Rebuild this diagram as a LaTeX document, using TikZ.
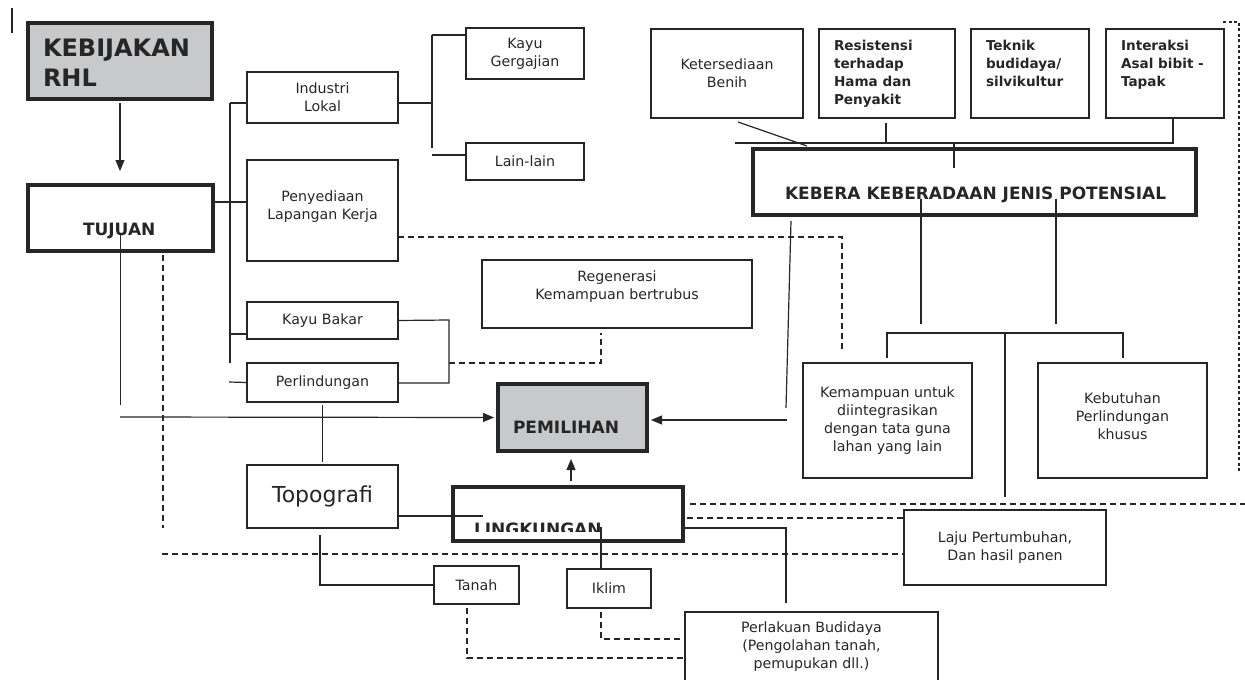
\documentclass[tikz,border=0pt]{standalone}
\usepackage{fontspec}
\setmainfont{DejaVu Sans}
\usepackage{tikz}
\usetikzlibrary{arrows.meta,positioning}

\definecolor{inkgray}{HTML}{262626}
\definecolor{boxgray}{HTML}{C8C9CB}

\begin{document}
\begin{tikzpicture}[y=-1pt,x=1pt,
	every node/.style={inner sep=0pt, outer sep=0pt, text=inkgray},
	box/.style={draw=inkgray, line width=1.3pt, anchor=north west, align=center, font=\fontsize{14.2}{18}\selectfont},
	heavy/.style={draw=inkgray, line width=3.6pt, anchor=north west},
	shaded/.style={fill=boxgray},
	link/.style={draw=inkgray, line width=1.2pt},
	dlink/.style={link, dash pattern=on 6pt off 4pt},
	flink/.style={link, line width=1.1pt, dash pattern=on 3pt off 2.5pt},
	arr/.style={link, -{Triangle[length=11pt,width=9pt]}},
	btxt/.style={font=\bfseries\fontsize{13.6}{18}\selectfont, align=left, anchor=north west},
	ntxt/.style={font=\fontsize{14.2}{18}\selectfont, align=center, anchor=north},
	htxt/.style={font=\bfseries\fontsize{17}{20}\selectfont, anchor=base west}]

	\useasboundingbox (0,0) rectangle (1245,680);

	\node[heavy, shaded, minimum width=184pt, minimum height=76pt] (kebij) at (28,23) {};
	\node[heavy, minimum width=185pt, minimum height=66pt] (tuj) at (28,185) {};
	\node[heavy, shaded, minimum width=149pt, minimum height=67pt] (pemil) at (498,384) {};
	\node[heavy, minimum width=230pt, minimum height=54pt] (lingk) at (453,487) {};
	\node[heavy, minimum width=443pt, minimum height=66pt] (kebera) at (753,149) {};

	\node[box, minimum width=151pt, minimum height=51pt] (ind) at (247,72) {Industri\\Lokal};
	\node[box, minimum width=151pt, minimum height=101pt] (peny) at (247,160) {};
	\node[box, minimum width=151pt, minimum height=37pt] (kbak) at (247,302) {Kayu Bakar};
	\node[box, minimum width=151pt, minimum height=39pt] (perl) at (247,363) {Perlindungan};
	\node[box, minimum width=151pt, minimum height=63pt, font=\fontsize{22}{26}\selectfont] (topo) at (247,465) {Topografi};
	\node[box, minimum width=118pt, minimum height=51pt] (kgerg) at (466,28) {Kayu\\Gergajian};
	\node[box, minimum width=118pt, minimum height=37pt] (lain) at (466,143) {Lain-lain};
	\node[box, minimum width=270pt, minimum height=68pt] (regen) at (482,260) {};
	\node[box, minimum width=152pt, minimum height=89pt] (ket) at (651,29) {Ketersediaan\\Benih};
	\node[box, minimum width=136pt, minimum height=89pt] (resis) at (819,29) {};
	\node[box, minimum width=118pt, minimum height=89pt] (tekn) at (971,29) {};
	\node[box, minimum width=118pt, minimum height=89pt] (inter) at (1106,29) {};
	\node[box, minimum width=169pt, minimum height=115pt] (kemam) at (803,363) {Kemampuan untuk\\diintegrasikan\\dengan tata guna\\lahan yang lain};
	\node[box, minimum width=169pt, minimum height=115pt] (kebut) at (1038,363) {};
	\node[box, minimum width=202pt, minimum height=75pt] (laju) at (904,510) {Laju Pertumbuhan,\\Dan hasil panen};
	\node[box, minimum width=85pt, minimum height=38pt] (tanah) at (434,566) {Tanah};
	\node[box, minimum width=84pt, minimum height=39pt] (iklim) at (567,569) {Iklim};
	\node[box, minimum width=253pt, minimum height=100pt] (perlak) at (685,612) {};

	\node[font=\bfseries\fontsize{24}{30}\selectfont, align=left, anchor=north west] (kebij-t) at (43,39) {KEBIJAKAN\\RHL};
	\node[htxt] (tuj-t) at (83,235) {TUJUAN};
	\node[htxt] (pemil-t) at (513,433) {PEMILIHAN};
	\node[htxt] (kebera-t) at (785,199) {KEBERA KEBERADAAN JENIS POTENSIAL};
	\begin{scope}
		\clip (453,487) rectangle (683,531.5);
		\node[htxt] (lingk-t) at (474,535) {LINGKUNGAN};
	\end{scope}
	\node[ntxt] (peny-t) at ([yshift=-30.5pt]peny.north) {Penyediaan\\Lapangan Kerja};
	\node[ntxt] (regen-t) at ([yshift=-11pt]regen.north) {Regenerasi\\Kemampuan bertrubus};
	\node[ntxt] (kebut-t) at ([yshift=-30pt]kebut.north) {Kebutuhan\\Perlindungan\\khusus};
	\node[ntxt] (perlak-t) at ([yshift=-10pt]perlak.north) {Perlakuan Budidaya\\(Pengolahan tanah,\\pemupukan dll.)};
	\node[btxt] (resis-t) at ([shift={(15,11)}]resis.north west) {Resistensi\\terhadap\\Hama dan\\Penyakit};
	\node[btxt] (tekn-t) at ([shift={(15,11)}]tekn.north west) {Teknik\\budidaya/\\silvikultur};
	\node[btxt] (inter-t) at ([shift={(15,11)}]inter.north west) {Interaksi\\Asal bibit -\\Tapak};

	\draw[link, line width=1.5pt] (12,8) -- (12,33);
	\draw[arr] ([yshift=-4pt]kebij.south) -- (120,171);
	\draw[link] ([yshift=-15pt]tuj.center) -- ++(0,172);
	\draw[arr] (120,417) -- ([xshift=-4pt]pemil.west);
	\draw[dlink] (163,255) -- (163,528);
	\draw[dlink] (162,554) -- (laju.west |- 0,554);

	\draw[link] (230,103) -- (230,363);
	\draw[link] (230,103) -- (ind.west |- 0,103);
	\draw[link] (tuj.east |- 0,202) -- (peny.west |- 0,202);
	\draw[link] (230,334) -- (kbak.west |- 0,334);
	\draw[link] (229,382) -- (perl.west);
	\draw[link] (ind.east |- 0,103) -- (432,103);
	\draw[link] (432,35) -- (432,148);
	\draw[link] (432,35) -- (kgerg.west |- 0,35);
	\draw[link] (432,155) -- (lain.west |- 0,155);
	\draw[dlink] (peny.east |- 0,237) -- (842,237) -- (842,352);
	\draw[link] (kbak.east) -- (449,320) -- (449,383) -- (perl.east |- 0,383);
	\draw[dlink] (449,363) -- (601,363) -- (601,333);

	\draw[link] ([yshift=-3pt]perl.south) -- ([yshift=3pt]topo.north);
	\draw[link] (topo.east |- 0,516) -- (483,516);
	\draw[link] (320,535) -- (320,585) -- (tanah.west);
	\draw[arr] (571,481) -- (571,459);
	\draw[link] (601,527) -- (iklim.north -| 601,0);
	\draw[link] (lingk.east |- 0,528) -- (786,528) -- (786,603);
	\draw[dlink] (601,612) -- (601,639) -- (perlak.west |- 0,639);
	\draw[dlink] (467,608) -- (467,658) -- (perlak.west |- 0,658);
	\draw[dlink] (690,504) -- (1245,504);
	\draw[dlink] (687,518) -- (laju.west |- 0,518);

	\draw[link] (735,143) -- (1173,143) -- (inter.south -| 1173,0);
	\draw[link] (886,123) -- (886,143);
	\draw[link] (954,143) -- (954,168);
	\draw[link] (738,122) -- (807,146);
	\draw[link] (921,199) -- (921,324);
	\draw[link] (1056,199) -- (1056,324);
	\draw[link] (887,358) -- (887,333) -- (1123,333) -- (1123,358);
	\draw[link] (1005,333) -- (1005,497);
	\draw[link] (791,221) -- (786,408);
	\draw[arr] (787,420) -- ([xshift=4pt]pemil.east |- 0,420);
	\draw[flink] (1223,22) -- (1239,22) -- (1239,472);

\end{tikzpicture}
\end{document}
